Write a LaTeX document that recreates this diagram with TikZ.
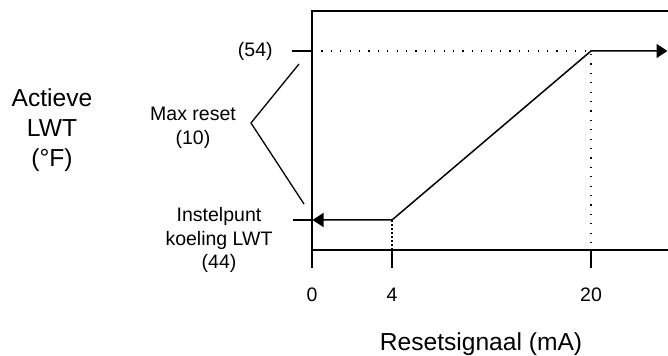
\documentclass[tikz,border=0pt]{standalone}
\usepackage{fontspec}
\setmainfont{Liberation Sans}
\usetikzlibrary{arrows.meta, positioning}
\tikzset{
  x=0.5pt, y=-0.5pt, % one unit is one pixel of the drawing, y runs downwards
  axis/.style={line width=0.65pt}, % frame, ticks and bracket
  curve/.style={line width=0.75pt, {Triangle[length=5.5pt, width=7pt]}-{Triangle[length=5.5pt, width=7pt]}},
  guide/.style={line width=0.6pt, dash pattern=on 0.6pt off 4.1pt}, % dotted help lines
  fineguide/.style={line width=0.6pt, dash pattern=on 1pt off 1pt},
  txt/.style={font=\fontsize{9.75pt}{11.9pt}\selectfont, align=center, inner sep=0pt},
  bigtxt/.style={font=\fontsize{12.3pt}{15pt}\selectfont, align=center, inner sep=0pt},
}
\begin{document}
\begin{tikzpicture}
    \useasboundingbox (0,0) rectangle (668,356);

    % frame of the chart
    \coordinate (TOP_LEFT) at (312,11);
    \coordinate (TOP_RIGHT) at (668,11);
    \coordinate (ORIGIN) at (312,250);
    \coordinate (BOTTOM_RIGHT) at (668,250);
    \coordinate (X0) at (312,268);
    \coordinate (X4_TOP) at (392,250);
    \coordinate (X4) at (392,268);
    \coordinate (X20_TOP) at (591,250);
    \coordinate (X20) at (591,268);
    \coordinate (Y54_END) at (292,51);
    \coordinate (Y54) at (312,51);
    \coordinate (Y44_END) at (293,220);
    \coordinate (Y44) at (312,220);

    % corners of the reset line
    \coordinate (P_START) at (312.5,220);
    \coordinate (P_LOW) at (392,220);
    \coordinate (P_HIGH) at (591,51);
    \coordinate (P_END) at (667.5,51);

    % bracket for max reset
    \coordinate (BR_TOP) at (299,64);
    \coordinate (BR_TIP) at (251,123);
    \coordinate (BR_BOT) at (304,204);

    \draw[axis] (TOP_RIGHT) -- (TOP_LEFT) -- (X0);
    \draw[axis] (ORIGIN) -- (BOTTOM_RIGHT);
    \draw[axis] (X4_TOP) -- (X4);
    \draw[axis] (X20_TOP) -- (X20);
    \draw[axis] (Y54_END) -- (Y54);
    \draw[axis] (Y44_END) -- (Y44);
    \draw[axis] (BR_TOP) -- (BR_TIP) -- (BR_BOT);

    \draw[guide] (Y54) -- (P_HIGH) -- (X20_TOP);
    \draw[fineguide] (P_LOW) -- (X4_TOP);

    \draw[curve] (P_START) -- (P_LOW) -- (P_HIGH) -- (P_END);

    % labels
    \node[txt, anchor=east] (L54) at (273,51) {(54)};
    \node[txt] (MAX_RESET) at (193,128) {Max reset\\(10)};
    \node[txt] (SETPOINT) at (219,240) {Instelpunt\\koeling LWT\\(44)};
    \node[txt] (T0) at (312,295) {0};
    \node[txt] (T4) at (392,295) {4};
    \node[txt] (T20) at (591,295) {20};
    \node[bigtxt] (Y_TITLE) at (52,130) {Actieve\\LWT\\(°F)};
    \node[bigtxt] (X_TITLE) at (481,344) {Resetsignaal (mA)};
\end{tikzpicture}
\end{document}
